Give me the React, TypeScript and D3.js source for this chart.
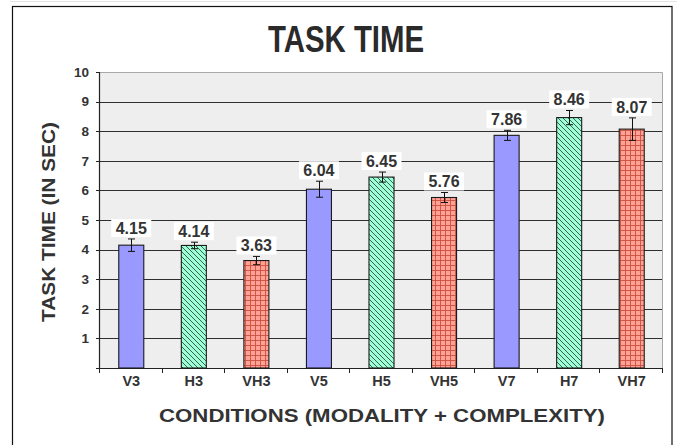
import React from 'react';
import * as d3 from 'd3';

const categories = ['V3', 'H3', 'VH3', 'V5', 'H5', 'VH5', 'V7', 'H7', 'VH7'];
const values = [4.15, 4.14, 3.63, 6.04, 6.45, 5.76, 7.86, 8.46, 8.07];
const errors = [0.21, 0.11, 0.14, 0.27, 0.17, 0.17, 0.17, 0.24, 0.38];
const yTicks = [0, 1, 2, 3, 4, 5, 6, 7, 8, 9, 10];
const title = 'TASK TIME';
const xTitle = 'CONDITIONS (MODALITY + COMPLEXITY)';
const yTitle = 'TASK TIME (IN SEC)';

const W = 677;
const H = 445;
const plot = { left: 100, right: 663, top: 72, bottom: 368 };
const font = '"Liberation Sans", Arial, Helvetica, sans-serif';
const textColor = '#333333';

function fillFor(cat: string) {
  if (cat.startsWith('VH')) return 'url(#gridPat)';
  if (cat.startsWith('H')) return 'url(#hatchPat)';
  return '#9999ff';
}

export default function App() {
  const x = d3.scaleBand<string>().domain(categories).range([plot.left, plot.right]).padding(0);
  const y = d3.scaleLinear().domain([0, 10]).range([plot.bottom, plot.top]);
  const bw = x.bandwidth() * 0.4;

  return (
    <svg
      width={W}
      height={H}
      style={{ position: 'absolute', left: 0, top: 0, background: '#fff' }}
      fontFamily={font}
    >
      <defs>
        <pattern id="hatchPat" width={5} height={5} patternUnits="userSpaceOnUse">
          <rect width={5} height={5} fill="#9dffd6" />
          <path d="M-1,-1 L6,6 M-1,4 L1,6 M4,-1 L6,1" stroke="#2f4f42" strokeWidth={0.9} />
        </pattern>
        <pattern id="gridPat" width={5} height={5} patternUnits="userSpaceOnUse">
          <rect width={5} height={5} fill="#ffa295" />
          <path d="M0,0.5 H5 M0.5,0 V5" stroke="#c8503f" strokeWidth={0.9} />
        </pattern>
      </defs>

      {/* outer frame */}
      <line x1={10} x2={W} y1={1.5} y2={1.5} stroke="#e4e4e4" strokeWidth={1} />
      <rect x={12.5} y={6.5} width={659.5} height={H + 20} fill="none" stroke="#111" strokeWidth={1.2} />

      {/* title */}
      <text
        x={(268 + 424) / 2}
        y={51.5}
        textAnchor="middle"
        fontFamily={'"Liberation Sans Narrow", "Arial Narrow", ' + font}
        fontWeight="bold"
        fontSize={36}
        fill="#2a2a2a"
        textLength={156}
        lengthAdjust="spacingAndGlyphs"
      >
        {title}
      </text>

      {/* plot background */}
      <rect
        x={plot.left}
        y={plot.top}
        width={plot.right - plot.left}
        height={plot.bottom - plot.top}
        fill="#eeeeee"
      />
      <path
        d={`M${plot.left},${plot.top + 0.5} H${plot.right - 0.5} V${plot.bottom}`}
        fill="none"
        stroke="#a8a8a8"
        strokeWidth={1}
      />

      {/* gridlines */}
      {yTicks.filter((t) => t > 0 && t < 10).map((t) => (
        <line
          key={'g' + t}
          x1={plot.left}
          x2={plot.right - 1}
          y1={Math.round(y(t)) + 0.5}
          y2={Math.round(y(t)) + 0.5}
          stroke="#2e2e2e"
          strokeWidth={1}
        />
      ))}

      {/* y axis */}
      <line x1={plot.left - 0.5} x2={plot.left - 0.5} y1={plot.top} y2={plot.bottom + 1} stroke="#222" strokeWidth={1.2} />
      {yTicks.map((t) => (
        <g key={'yt' + t}>
          <line
            x1={plot.left - 4}
            x2={plot.left}
            y1={Math.round(y(t)) + 0.5}
            y2={Math.round(y(t)) + 0.5}
            stroke="#222"
            strokeWidth={1}
          />
          {t > 0 && (
            <text
              x={89}
              y={y(t)}
              dy="0.35em"
              textAnchor="end"
              fontSize={13.5}
              fontWeight="bold"
              fill={textColor}
            >
              {t}
            </text>
          )}
        </g>
      ))}

      {/* x axis */}
      <line x1={plot.left} x2={plot.right} y1={plot.bottom + 0.5} y2={plot.bottom + 0.5} stroke="#222" strokeWidth={1.2} />
      {[...categories.map((c) => x(c) as number), plot.right].map((px, i) => (
        <line
          key={'xt' + i}
          x1={Math.round(px) - 0.5}
          x2={Math.round(px) - 0.5}
          y1={plot.bottom}
          y2={plot.bottom + 5}
          stroke="#222"
          strokeWidth={1}
        />
      ))}
      {categories.map((c) => (
        <text
          key={'xl' + c}
          x={(x(c) as number) + x.bandwidth() / 2}
          y={385.5}
          textAnchor="middle"
          fontSize={14.5}
          fontWeight="bold"
          fill={textColor}
        >
          {c}
        </text>
      ))}

      {/* bars */}
      {categories.map((c, i) => {
        const cx = (x(c) as number) + x.bandwidth() / 2;
        const top = y(values[i]);
        return (
          <rect
            key={'b' + c}
            x={cx - bw / 2}
            y={top}
            width={bw}
            height={plot.bottom - top}
            fill={fillFor(c)}
            stroke="#1a1a1a"
            strokeWidth={1.1}
          />
        );
      })}

      {/* error bars */}
      {categories.map((c, i) => {
        const cx = Math.round((x(c) as number) + x.bandwidth() / 2) + 0.5;
        const yt = y(values[i] + errors[i]);
        const yb = y(values[i] - errors[i]);
        return (
          <g key={'e' + c} stroke="#111" strokeWidth={1}>
            <line x1={cx} x2={cx} y1={yt} y2={yb} />
            <line x1={cx - 3.5} x2={cx + 3.5} y1={yt} y2={yt} />
            <line x1={cx - 3.5} x2={cx + 3.5} y1={yb} y2={yb} />
          </g>
        );
      })}

      {/* value labels */}
      {categories.map((c, i) => {
        const cx = (x(c) as number) + x.bandwidth() / 2;
        const cy = y(values[i] + errors[i]) - 11;
        const label = values[i].toFixed(2);
        const lw = 40;
        return (
          <g key={'v' + c}>
            <rect x={cx - lw / 2} y={cy - 9} width={lw} height={18} fill="#ffffff" />
            <text
              x={cx}
              y={cy}
              dy="0.36em"
              textAnchor="middle"
              fontSize={16}
              fontWeight="bold"
              fill={textColor}
            >
              {label}
            </text>
          </g>
        );
      })}

      {/* axis titles */}
      <text
        x={382}
        y={421.5}
        textAnchor="middle"
        fontSize={18}
        fontWeight="bold"
        fill={textColor}
        textLength={446}
        lengthAdjust="spacingAndGlyphs"
      >
        {xTitle}
      </text>
      <text
        transform={`translate(55,222) rotate(-90)`}
        textAnchor="middle"
        fontSize={19}
        fontWeight="bold"
        fill={textColor}
        textLength={200}
        lengthAdjust="spacingAndGlyphs"
      >
        {yTitle}
      </text>
    </svg>
  );
}
